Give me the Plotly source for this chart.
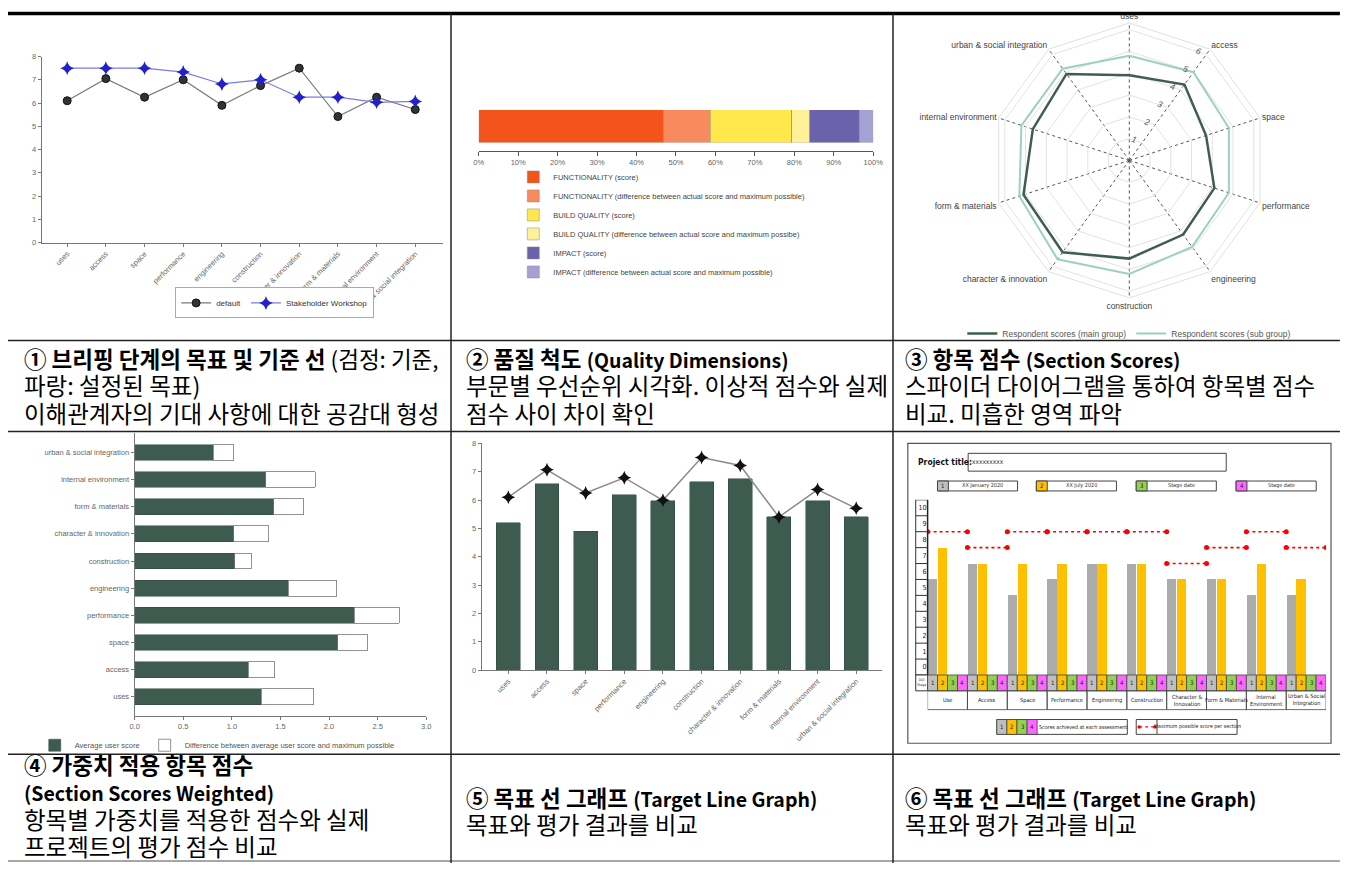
import plotly.graph_objects as go

# page body keeps an 8px margin, so the figure is 16px smaller than the window
PAGE_W, PAGE_H = 1350, 876
OFF = 8
W, H = PAGE_W - 2 * OFF, PAGE_H - 2 * OFF
def px(x): return (x - OFF) / W
def py(y): return 1 - (y - OFF) / H

# ---------------- data ----------------
categories = ["uses", "access", "space", "performance", "engineering", "construction",
              "character & innovation", "form & materials", "internal environment",
              "urban & social integration"]

# panel 1: briefing target line
p1_default = [6.1, 7.05, 6.25, 7.0, 5.9, 6.75, 7.5, 5.42, 6.25, 5.72]
p1_workshop = [7.5, 7.5, 7.5, 7.33, 6.82, 7.0, 6.25, 6.25, 6.03, 6.07]

# panel 2: quality dimensions (% of total)
p2_labels = ["FUNCTIONALITY (score)",
             "FUNCTIONALITY (difference between actual score and maximum possible)",
             "BUILD QUALITY (score)",
             "BUILD QUALITY (difference between actual score and maximum possibe)",
             "IMPACT (score)",
             "IMPACT (difference between actual score and maximum possible)"]
p2_values = [46.8, 11.9, 20.6, 4.6, 12.5, 3.6]
p2_colors = ["#F2541C", "#F88A5F", "#FFE74C", "#FFF197", "#6B62AC", "#A6A1D3"]

# panel 3: section scores (radar)
p3_main = [3.9, 4.3, 3.7, 4.1, 4.2, 4.5, 5.2, 5.1, 4.65, 4.9]
p3_sub = [4.8, 5.0, 4.8, 4.8, 4.9, 5.2, 5.6, 5.3, 5.2, 5.2]
p3_ticks = [1, 2, 3, 4, 5, 6]

# panel 4: section scores weighted
p4_score = [1.30, 1.17, 2.09, 2.26, 1.58, 1.03, 1.02, 1.43, 1.35, 0.81]
p4_diff = [0.54, 0.27, 0.31, 0.46, 0.50, 0.17, 0.36, 0.31, 0.51, 0.21]

# panel 5: target line graph
p5_bars = [5.2, 6.57, 4.9, 6.19, 5.98, 6.64, 6.76, 5.41, 5.98, 5.41]
p5_line = [6.1, 7.07, 6.25, 6.79, 5.99, 7.5, 7.22, 5.4, 6.37, 5.71]

# panel 6: DQI target line graph
p6_sections = ["Use", "Access", "Space", "Performance", "Engineering", "Construction",
               "Character &<br>Innovation", "Form & Materials", "Internal<br>Environment",
               "Urban & Social<br>Integration"]
p6_stage1 = [6, 7, 5, 6, 7, 7, 6, 6, 5, 5]
p6_stage2 = [8, 7, 7, 7, 7, 7, 6, 6, 7, 6]
p6_max = [9, 8, 9, 9, 9, 9, 7, 8, 9, 8]
p6_yticks = list(range(0, 11))
p6_stage_dates = ["XX January 2020", "XX July 2020", "Stage date", "Stage date"]
p6_stage_colors = ["#BFBFBF", "#FFC000", "#92D050", "#FF66FF"]

GREEN = "#3D5B4F"
TICKF = dict(family="Liberation Sans, Arial", size=7.5, color="#666")
NARROW = "Liberation Sans Narrow, DejaVu Sans Condensed, Liberation Sans, Arial"

fig = go.Figure()

# ---------------- panel 1 ----------------
fig.add_trace(go.Scatter(x=categories, y=p1_default, name="default", mode="lines+markers",
                         line=dict(color="#7a7a7a", width=1.2),
                         marker=dict(symbol="circle", size=8, color="#333", line=dict(color="#111", width=1)),
                         xaxis="x", yaxis="y", legend="legend"))
fig.add_trace(go.Scatter(x=categories, y=p1_workshop, name="Stakeholder Workshop", mode="lines+markers",
                         line=dict(color="#7b7be0", width=1.2),
                         marker=dict(symbol="star-diamond", size=10, color="#2222cc"),
                         xaxis="x", yaxis="y", legend="legend"))

# ---------------- panel 2 ----------------
for lab, val, col in zip(p2_labels, p2_values, p2_colors):
    fig.add_trace(go.Bar(y=["Q"], x=[val], orientation="h", name=lab, width=0.8,
                         marker=dict(color=col, line=dict(color="#888", width=0.5)),
                         xaxis="x2", yaxis="y2", legend="legend2"))

# ---------------- panel 3 ----------------
theta_closed = categories + categories[:1]
fig.add_trace(go.Scatterpolar(r=p3_main + p3_main[:1], theta=theta_closed, mode="lines",
                              name="Respondent scores (main group)",
                              line=dict(color="#3F5E50", width=2.5), subplot="polar", legend="legend3"))
fig.add_trace(go.Scatterpolar(r=p3_sub + p3_sub[:1], theta=theta_closed, mode="lines",
                              name="Respondent scores (sub group)",
                              line=dict(color="#9ED0BE", width=2), subplot="polar", legend="legend3"))

# ---------------- panel 4 ----------------
fig.add_trace(go.Bar(y=categories, x=p4_score, orientation="h", name="Average user score", width=0.58,
                     marker=dict(color=GREEN, line=dict(color="#2c4a3e", width=0.5)),
                     xaxis="x3", yaxis="y3", legend="legend4"))
fig.add_trace(go.Bar(y=categories, x=p4_diff, orientation="h",
                     name="Difference between average user score and maximum possible", width=0.58,
                     marker=dict(color="white", line=dict(color="#777", width=0.8)),
                     xaxis="x3", yaxis="y3", legend="legend4"))

# ---------------- panel 5 ----------------
fig.add_trace(go.Bar(x=categories, y=p5_bars, width=0.62, showlegend=False,
                     marker=dict(color=GREEN, line=dict(color="#2c4a3e", width=0.5)),
                     xaxis="x4", yaxis="y4"))
fig.add_trace(go.Scatter(x=categories, y=p5_line, mode="lines+markers", showlegend=False,
                         line=dict(color="#8a8a8a", width=1.5),
                         marker=dict(symbol="star-diamond", size=10, color="#111"),
                         xaxis="x4", yaxis="y4"))

# ---------------- panel 6 ----------------
n6 = len(p6_sections)
slot = 0.25
fig.add_trace(go.Bar(x=[i - 0.5 + slot * 0.5 for i in range(n6)], y=p6_stage1, width=slot * 0.94,
                     marker=dict(color="#ABABAB", line=dict(width=0)), showlegend=False,
                     xaxis="x5", yaxis="y5"))
fig.add_trace(go.Bar(x=[i - 0.5 + slot * 1.5 for i in range(n6)], y=p6_stage2, width=slot * 0.94,
                     marker=dict(color="#FFC000", line=dict(width=0)), showlegend=False,
                     xaxis="x5", yaxis="y5"))
mx, my = [], []
for i, m in enumerate(p6_max):
    mx += [i - 0.5, i + 0.5, None]
    my += [m, m, None]
fig.add_trace(go.Scatter(x=mx, y=my, mode="lines+markers", showlegend=False, connectgaps=False,
                         line=dict(color="#FF0000", width=1.6, dash="dot"),
                         marker=dict(symbol="circle", size=5, color="#FF0000"),
                         xaxis="x5", yaxis="y5"))

shapes = []
annots = []

def rect(x0, y0, x1, y1, fill="rgba(0,0,0,0)", line="#333", lw=1, xref="paper", yref="paper"):
    shapes.append(dict(type="rect", xref=xref, yref=yref, x0=x0, x1=x1, y0=y0, y1=y1,
                       fillcolor=fill, line=dict(color=line, width=lw), layer="above"))

def hline(x0, x1, y, color="#222", lw=1.5):
    shapes.append(dict(type="line", xref="paper", yref="paper", x0=px(x0), x1=px(x1),
                       y0=py(y), y1=py(y), line=dict(color=color, width=lw), layer="above"))

def vline(x, y0, y1, color="#222", lw=1.5):
    shapes.append(dict(type="line", xref="paper", yref="paper", x0=px(x), x1=px(x),
                       y0=py(y0), y1=py(y1), line=dict(color=color, width=lw), layer="above"))

def note(x, y, text, size, color="#222", family=NARROW, xref="paper", xanchor="center"):
    annots.append(dict(x=x, y=y, xref=xref, yref="paper", text=text, showarrow=False,
                       xanchor=xanchor, yanchor="middle",
                       font=dict(family=family, size=size, color=color)))

# panel 6 frame, title and stage boxes
rect(px(913), py(747), px(1341), py(444), line="#555", lw=1.2)
note(px(921), py(463), "<b>Project title:</b>", 8.5, color="#111", xanchor="left")
rect(px(974), py(472), px(1235), py(454), line="#444", lw=1)
note(px(976), py(463), "xxxxxxxxx", 6.5, xanchor="left")
box_x = [943, 1043, 1144, 1245]
for k, (bx, lab, col) in enumerate(zip(box_x, p6_stage_dates, p6_stage_colors)):
    rect(px(bx), py(492), px(bx + 81), py(482), line="#444", lw=1)
    rect(px(bx), py(492), px(bx + 11), py(482), fill=col, line="#444", lw=1)
    note(px(bx + 5.5), py(487), str(k + 1), 6)
    note(px(bx + 46), py(487), lab, 5.5, color="#333")

# panel 6 y-axis cell column
vline(921, 501, 678, color="#333", lw=1)
vline(933, 501, 678, color="#222", lw=1.5)
for k in range(0, 12):
    shapes.append(dict(type="line", xref="paper", yref="y5", x0=px(921), x1=px(933), y0=k, y1=k,
                       line=dict(color="#333", width=1), layer="above"))

# panel 6 table rows under chart
rect(px(921), py(694), px(933), py(678), line="#333", lw=1)
note(px(927), py(686), "DQI<br>Stage", 3.5, color="#333")
for i, name in enumerate(p6_sections):
    for j, col in enumerate(p6_stage_colors):
        x0 = i - 0.5 + slot * j
        rect(x0, py(694), x0 + slot, py(678), fill=col, line="#444", lw=0.8, xref="x5")
        note(x0 + slot / 2, py(686), str(j + 1), 6, xref="x5")
    rect(i - 0.5, py(713), i + 0.5, py(694), line="#444", lw=0.8, xref="x5")
    note(i, py(703.5), name, 5.6, xref="x5")

# panel 6 legend boxes
rect(px(1003), py(738), px(1135), py(723), line="#444", lw=1)
for j, col in enumerate(p6_stage_colors):
    rect(px(1003 + 10.2 * j), py(738), px(1013.2 + 10.2 * j), py(723), fill=col, line="#444", lw=0.8)
    note(px(1008.1 + 10.2 * j), py(730.5), str(j + 1), 6)
note(px(1090), py(730.5), "Scores achieved at each assessment", 5.3)
rect(px(1144), py(738), px(1246), py(723), line="#444", lw=1)
vline(1165, 723, 738, color="#444", lw=1)
shapes.append(dict(type="line", xref="paper", yref="paper", x0=px(1147), x1=px(1163),
                   y0=py(730.5), y1=py(730.5), line=dict(color="#FF0000", width=1.2, dash="dot"), layer="above"))
for cx in (1147, 1163):
    shapes.append(dict(type="circle", xref="paper", yref="paper", x0=px(cx - 1.8), x1=px(cx + 1.8),
                       y0=py(732.3), y1=py(728.7), fillcolor="#FF0000", line=dict(width=0), layer="above"))
note(px(1206), py(730.5), "Maximum possible score per section", 5.3)

# ---------------- table grid ----------------
hline(0, 1350, 9.5, color="#000", lw=3.5)
hline(0, 1350, 340)
hline(0, 1350, 432)
hline(0, 1350, 758)
hline(0, 1350, 866, color="#888", lw=1.5)
vline(451, 9.5, 868)
vline(898, 9.5, 868)

# ---------------- table text ----------------
KFONT = "Noto Sans CJK KR"
KS = 21  # base size sets the line pitch
def sp(s, size):
    return '<span style="font-size:%spx">%s</span>' % (size, s)
def bk(s):
    return "<b>" + sp(s, 22.5) + "</b>"
def bl(s):
    return "<b>" + sp(s, 19.5) + "</b>"
def reg(s):
    return sp(s, 23.5)

def cell(x, y, lines):
    annots.append(dict(x=px(x), y=py(y), xref="paper", yref="paper", text="<br>".join(lines),
                       showarrow=False, xanchor="left", yanchor="middle", align="left",
                       font=dict(family=KFONT, size=KS, color="#000")))

cell(17, 386, [bk("① 브리핑 단계의 목표 및 기준 선") + sp(" (검정: 기준,", 22.5),
               reg("파랑: 설정된 목표)"),
               reg("이해관계자의 기대 사항에 대한 공감대 형성")])
cell(464, 386, [bk("② 품질 척도 ") + bl("(Quality Dimensions)"),
                reg("부문별 우선순위 시각화. 이상적 점수와 실제"),
                reg("점수 사이 차이 확인")])
cell(908, 386, [bk("③ 항목 점수 ") + bl("(Section Scores)"),
                reg("스파이더 다이어그램을 통하여 항목별 점수"),
                reg("비교. 미흡한 영역 파악")])
cell(17, 810, [bk("④ 가중치 적용 항목 점수"),
               bl("(Section Scores Weighted)"),
               reg("항목별 가중치를 적용한 점수와 실제"),
               reg("프로젝트의 평가 점수 비교")])
cell(464, 815, [bk("⑤ 목표 선 그래프 ") + bl("(Target Line Graph)"),
                reg("목표와 평가 결과를 비교")])
cell(908, 815, [bk("⑥ 목표 선 그래프 ") + bl("(Target Line Graph)"),
                reg("목표와 평가 결과를 비교")])

axline = dict(showline=True, linecolor="#777", linewidth=1, ticks="outside", ticklen=3,
              tickcolor="#777", showgrid=False, zeroline=False, tickfont=TICKF)

fig.update_layout(
    width=W, height=H, margin=dict(l=0, r=0, t=0, b=0),
    paper_bgcolor="white", plot_bgcolor="white", barmode="stack",
    font=dict(family="Liberation Sans, Arial", color="#444"),
    # panel 1
    xaxis=dict(domain=[px(37), px(443)], anchor="y", range=[-0.66, 9.72], tickangle=-45, **axline),
    yaxis=dict(domain=[py(241), py(53)], anchor="x", range=[0, 8], dtick=1, **axline),
    # panel 2
    xaxis2=dict(domain=[px(479), px(878)], anchor="free", position=py(148), range=[0, 100], dtick=10,
                ticksuffix="%", showline=True, linecolor="#555", ticks="outside", ticklen=4,
                tickcolor="#555", showgrid=False, zeroline=False, tickfont=TICKF),
    yaxis2=dict(domain=[py(140), py(107)], anchor="x2", range=[-0.4, 0.4], visible=False),
    # panel 4
    xaxis3=dict(domain=[px(131), px(426)], anchor="y3", range=[0, 3], dtick=0.5, tickformat=".1f", **axline),
    yaxis3=dict(domain=[py(719), py(433)], anchor="x3", range=[-0.69, 9.73], **axline),
    # panel 5
    xaxis4=dict(domain=[px(482), px(887)], anchor="y4", range=[-0.69, 9.67], tickangle=-45, **axline),
    yaxis4=dict(domain=[py(673), py(444)], anchor="x4", range=[0, 8], dtick=1, **axline),
    # panel 6
    xaxis5=dict(domain=[px(933), px(1336)], anchor="y5", range=[-0.5, 9.5], visible=False),
    yaxis5=dict(domain=[py(678), py(501)], anchor="x5", range=[0, 11],
                tickvals=[k + 0.5 for k in p6_yticks], ticktext=[str(k) for k in p6_yticks],
                showline=False, showgrid=False, zeroline=False, ticks="",
                tickfont=dict(family=NARROW, size=7, color="#222")),
    polar=dict(domain=dict(x=[px(998), px(1276)], y=[py(297), py(19)]), gridshape="linear",
               bgcolor="white",
               angularaxis=dict(rotation=90, direction="clockwise", showline=True, linecolor="#e0e0e0",
                                gridcolor="#555", griddash="dot", ticks="",
                                tickfont=dict(size=8.5, color="#444")),
               radialaxis=dict(range=[0, 6.3], tickvals=p3_ticks, angle=72, tickangle=72,
                               side="counterclockwise",
                               showline=False, gridcolor="#e3e3e3", ticks="",
                               tickfont=dict(size=8.5, color="#555", style="italic"))),
    legend=dict(orientation="h", x=px(172), y=py(302), xanchor="left", yanchor="middle",
                traceorder="normal", bgcolor="white", bordercolor="#aaa", borderwidth=1,
                font=dict(size=8, color="#333")),
    legend2=dict(orientation="v", x=px(514), y=py(160), xanchor="left", yanchor="top",
                 traceorder="normal", bgcolor="rgba(0,0,0,0)", tracegroupgap=0,
                 font=dict(size=7.5, color="#444")),
    legend3=dict(orientation="h", x=px(1137), y=py(333), xanchor="center", yanchor="middle",
                 traceorder="normal", bgcolor="rgba(0,0,0,0)", font=dict(size=8.5, color="#555")),
    legend4=dict(orientation="h", x=px(30), y=py(749), xanchor="left", yanchor="middle",
                 traceorder="normal", bgcolor="rgba(0,0,0,0)", font=dict(size=7.5, color="#555")),
    shapes=shapes, annotations=annots,
)

fig.write_html("out.html")
